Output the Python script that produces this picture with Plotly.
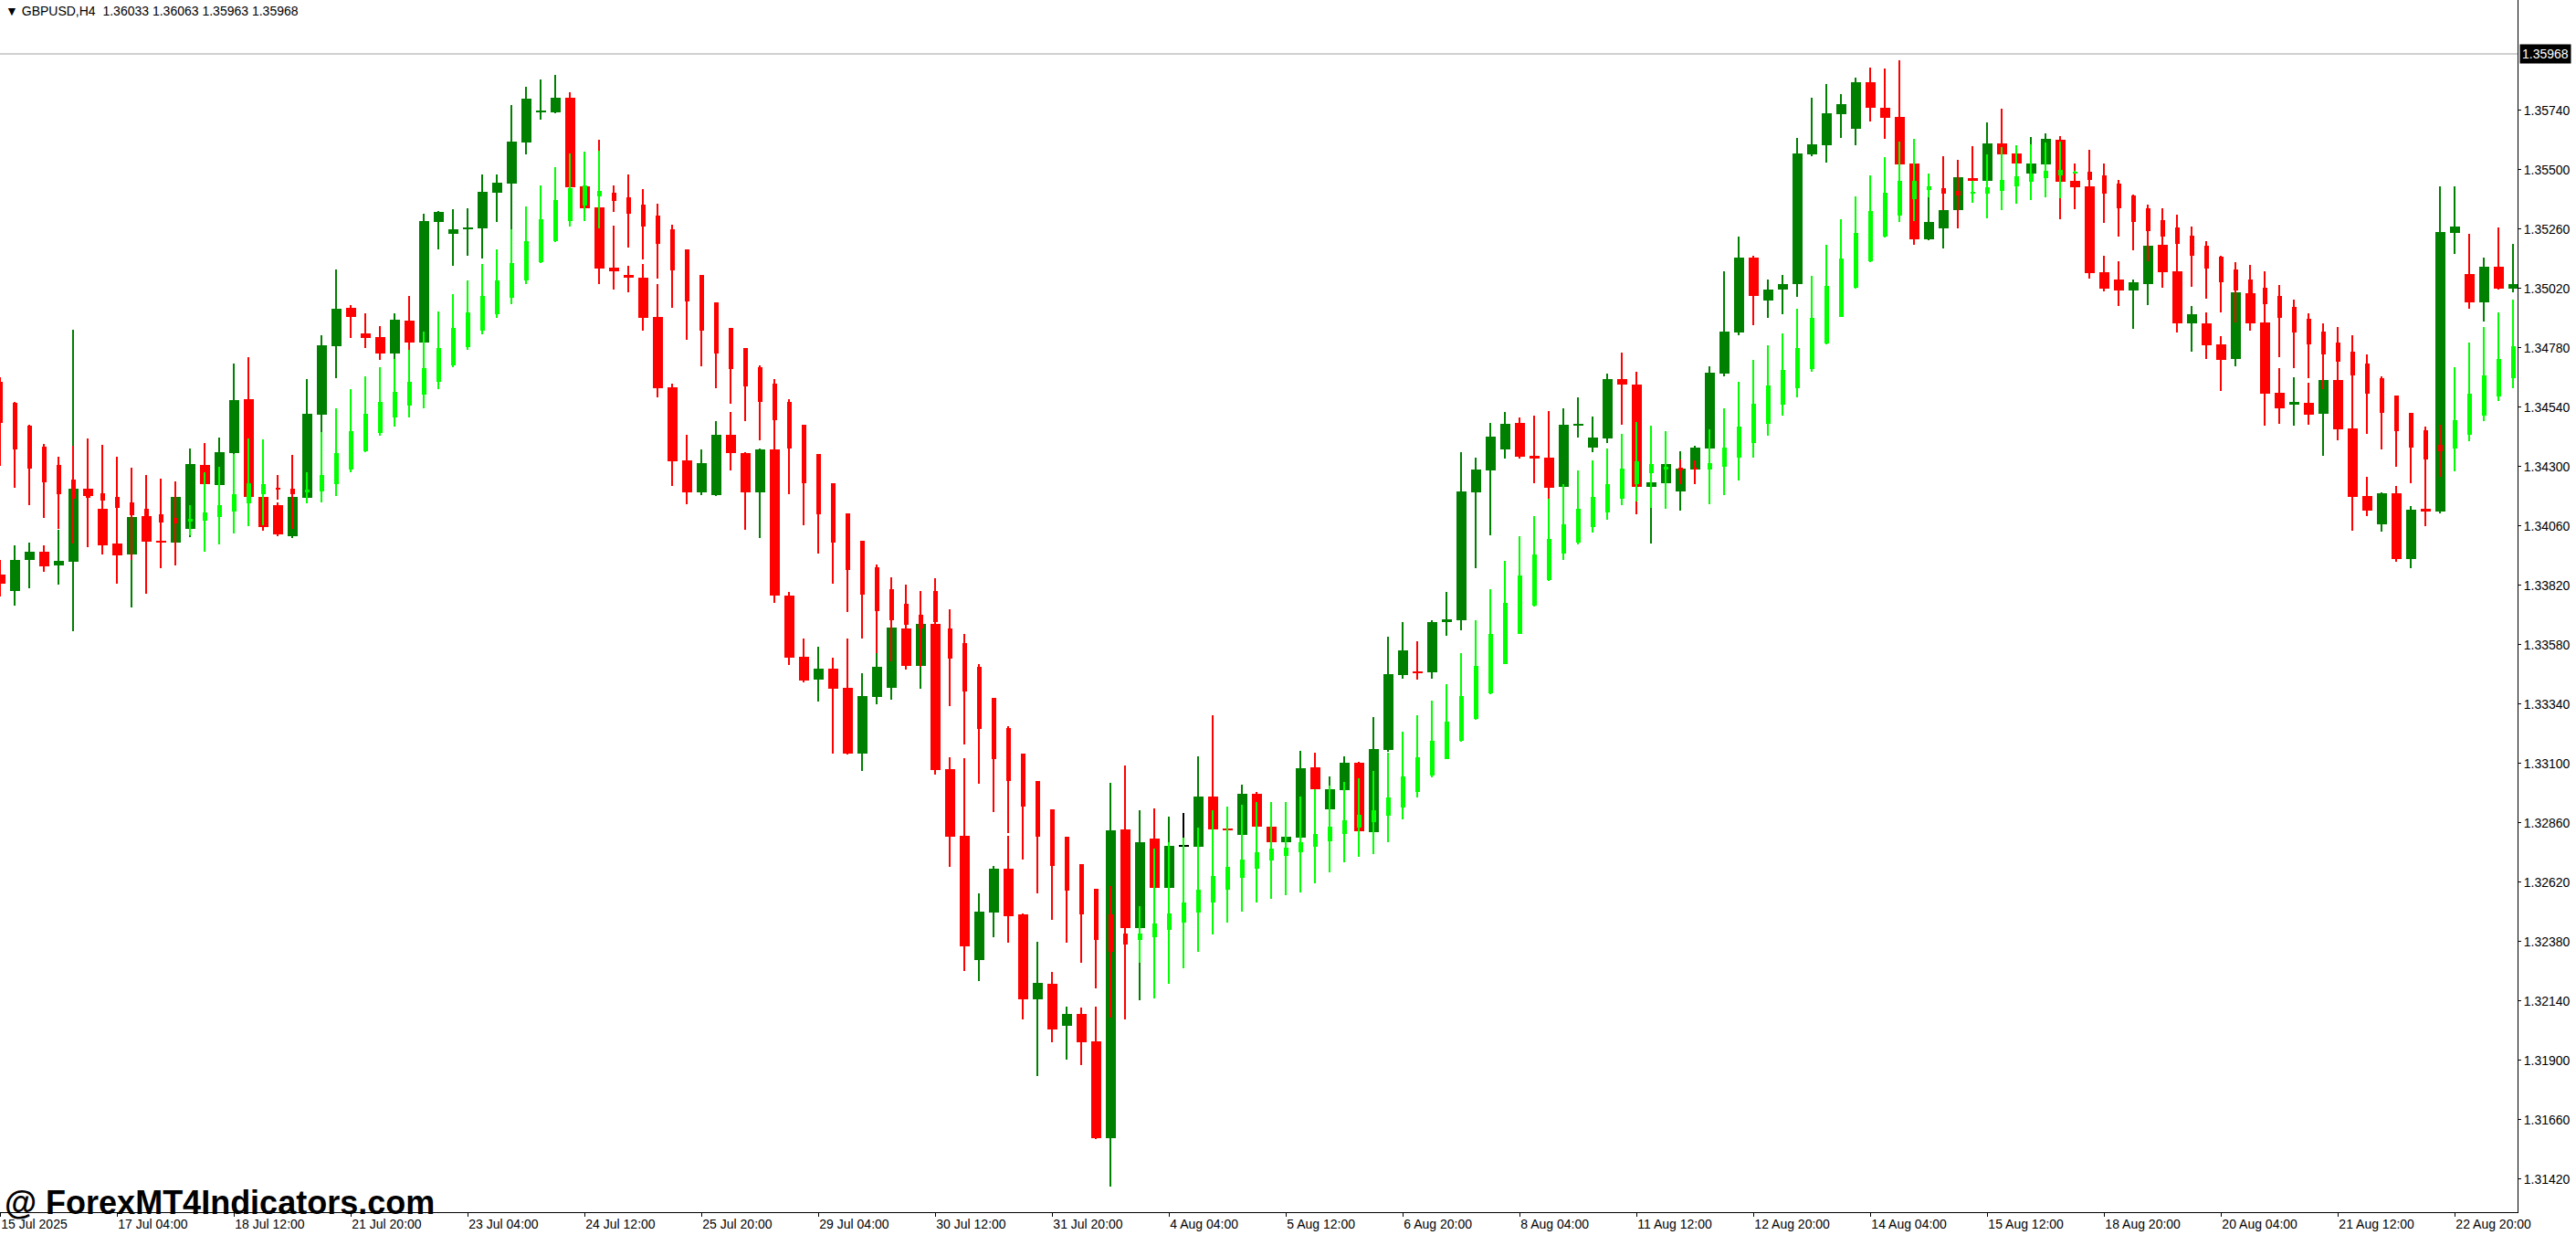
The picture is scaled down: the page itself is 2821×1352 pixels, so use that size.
import plotly.graph_objects as go

# ---------------------------------------------------------------------------
# GBPUSD H4 candles, 15 Jul 2025 20:00 .. 22 Aug 2025
# ---------------------------------------------------------------------------

main_open = [
    1.33862, 1.33798, 1.33924, 1.33956, 1.33902, 1.33915, 1.34211, 1.34130, 1.33989, 1.33946,
    1.34100, 1.34000, 1.33991, 1.34048, 1.34307, 1.34226, 1.34355, 1.34573, 1.34178, 1.34144,
    1.34020, 1.34175, 1.34511, 1.34788, 1.34941, 1.34838, 1.34823, 1.34758, 1.34890, 1.34802,
    1.35290, 1.35242, 1.35260, 1.35264, 1.35408, 1.35445, 1.35611, 1.35733, 1.35733, 1.35791,
    1.35433, 1.35348, 1.35105, 1.35074, 1.35064, 1.34904, 1.34621, 1.34325, 1.34196, 1.34184,
    1.34428, 1.34355, 1.34196, 1.34369, 1.33779, 1.33531, 1.33439, 1.33483, 1.33406, 1.33141,
    1.33368, 1.33406, 1.33645, 1.33495, 1.33665, 1.33076, 1.32807, 1.32307, 1.32496, 1.32675,
    1.32489, 1.32148, 1.32208, 1.32038, 1.32088, 1.31976, 1.31586, 1.32834, 1.32436, 1.32797,
    1.32598, 1.32763, 1.32762, 1.32966, 1.32837, 1.32812, 1.32978, 1.32844, 1.32783, 1.32801,
    1.33085, 1.32913, 1.32991, 1.33103, 1.32821, 1.33156, 1.33457, 1.33472, 1.33467, 1.33670,
    1.33678, 1.34197, 1.34285, 1.34371, 1.34476, 1.34344, 1.34336, 1.34219, 1.34465, 1.34376,
    1.34413, 1.34653, 1.34631, 1.34219, 1.34233, 1.34199, 1.34288, 1.34373, 1.34676, 1.34842,
    1.35145, 1.34971, 1.35016, 1.35038, 1.35562, 1.35599, 1.35724, 1.35665, 1.35854, 1.35750,
    1.35713, 1.35525, 1.35220, 1.35263, 1.35338, 1.35466, 1.35456, 1.35606, 1.35566, 1.35486,
    1.35523, 1.35621, 1.35455, 1.35433, 1.35086, 1.35056, 1.35013, 1.35039, 1.35196, 1.35089,
    1.34880, 1.34879, 1.34794, 1.34736, 1.35001, 1.34882, 1.34598, 1.34551, 1.34558, 1.34514,
    1.34650, 1.34454, 1.34181, 1.34068, 1.34192, 1.33927, 1.34129, 1.34119, 1.35246, 1.35078,
    1.34965, 1.35108, 1.35020,
]
main_high = [
    1.33922, 1.33981, 1.33993, 1.33983, 1.34045, 1.34853, 1.34414, 1.34168, 1.34032, 1.34131,
    1.34118, 1.34045, 1.34205, 1.34373, 1.34395, 1.34418, 1.34717, 1.34743, 1.34186, 1.34155,
    1.34186, 1.34654, 1.34831, 1.35096, 1.34952, 1.34919, 1.34868, 1.34919, 1.34990, 1.35322,
    1.35333, 1.35340, 1.35344, 1.35481, 1.35481, 1.35761, 1.35835, 1.35865, 1.35883, 1.35813,
    1.35438, 1.35621, 1.35274, 1.35111, 1.35119, 1.35038, 1.34635, 1.34428, 1.34369, 1.34485,
    1.34522, 1.34358, 1.34374, 1.34378, 1.33794, 1.33605, 1.33572, 1.33528, 1.33605, 1.33465,
    1.33547, 1.33658, 1.33661, 1.33674, 1.33676, 1.33126, 1.33121, 1.32574, 1.32685, 1.32807,
    1.32494, 1.32380, 1.32257, 1.32116, 1.32113, 1.32116, 1.33021, 1.33091, 1.32910, 1.32919,
    1.32885, 1.32899, 1.33128, 1.33295, 1.32904, 1.33014, 1.32984, 1.32859, 1.32842, 1.33151,
    1.33144, 1.33047, 1.33129, 1.33106, 1.33288, 1.33612, 1.33672, 1.33594, 1.33678, 1.33794,
    1.34359, 1.34336, 1.34476, 1.34521, 1.34499, 1.34506, 1.34524, 1.34535, 1.34580, 1.34502,
    1.34676, 1.34761, 1.34683, 1.34260, 1.34321, 1.34362, 1.34384, 1.34705, 1.35089, 1.35230,
    1.35152, 1.35056, 1.35075, 1.35628, 1.35791, 1.35846, 1.35806, 1.35872, 1.35913, 1.35909,
    1.35942, 1.35534, 1.35390, 1.35403, 1.35472, 1.35595, 1.35691, 1.35747, 1.35577, 1.35632,
    1.35647, 1.35636, 1.35525, 1.35441, 1.35152, 1.35130, 1.35056, 1.35201, 1.35207, 1.35097,
    1.34949, 1.34923, 1.34827, 1.35017, 1.35011, 1.34893, 1.34698, 1.34661, 1.34639, 1.34660,
    1.34660, 1.34506, 1.34258, 1.34196, 1.34221, 1.34140, 1.34204, 1.35433, 1.35433, 1.35241,
    1.35145, 1.35266, 1.35200,
]
main_low = [
    1.33776, 1.33739, 1.33808, 1.33875, 1.33821, 1.33636, 1.33976, 1.33944, 1.33828, 1.33729,
    1.33786, 1.33891, 1.33977, 1.34015, 1.34214, 1.34211, 1.34340, 1.34168, 1.34042, 1.34020,
    1.34010, 1.34155, 1.34438, 1.34658, 1.34821, 1.34780, 1.34732, 1.34736, 1.34773, 1.34789,
    1.35179, 1.35112, 1.35153, 1.35142, 1.35290, 1.35257, 1.35563, 1.35703, 1.35729, 1.35423,
    1.35337, 1.35039, 1.35017, 1.35005, 1.34848, 1.34580, 1.34222, 1.34148, 1.34184, 1.34181,
    1.34284, 1.34045, 1.34012, 1.33749, 1.33498, 1.33429, 1.33351, 1.33140, 1.33136, 1.33071,
    1.33340, 1.33357, 1.33479, 1.33403, 1.33054, 1.32683, 1.32262, 1.32222, 1.32399, 1.32377,
    1.32066, 1.31837, 1.31974, 1.31904, 1.31879, 1.31583, 1.31390, 1.32066, 1.32141, 1.32570,
    1.32570, 1.32737, 1.32737, 1.32812, 1.32803, 1.32795, 1.32834, 1.32776, 1.32776, 1.32793,
    1.32983, 1.32900, 1.32974, 1.32809, 1.32809, 1.33147, 1.33441, 1.33438, 1.33444, 1.33617,
    1.33637, 1.33891, 1.34024, 1.34334, 1.34331, 1.34234, 1.34169, 1.34210, 1.34417, 1.34358,
    1.34395, 1.34469, 1.34107, 1.33989, 1.34223, 1.34122, 1.34284, 1.34364, 1.34666, 1.34832,
    1.34871, 1.34901, 1.34916, 1.34986, 1.35555, 1.35529, 1.35628, 1.35599, 1.35696, 1.35626,
    1.35515, 1.35198, 1.35214, 1.35183, 1.35331, 1.35447, 1.35447, 1.35558, 1.35519, 1.35478,
    1.35515, 1.35301, 1.35342, 1.35061, 1.35009, 1.34950, 1.34858, 1.34954, 1.35024, 1.34843,
    1.34766, 1.34736, 1.34607, 1.34706, 1.34850, 1.34466, 1.34474, 1.34466, 1.34470, 1.34345,
    1.34407, 1.34042, 1.34101, 1.34038, 1.33916, 1.33890, 1.34060, 1.34112, 1.35161, 1.34939,
    1.34887, 1.35014, 1.35004,
]
main_close = [
    1.33828, 1.33922, 1.33956, 1.33897, 1.33919, 1.34211, 1.34182, 1.33983, 1.33942, 1.34096,
    1.33998, 1.33994, 1.34178, 1.34311, 1.34229, 1.34359, 1.34569, 1.34178, 1.34057, 1.34027,
    1.34178, 1.34514, 1.34790, 1.34938, 1.34906, 1.34821, 1.34758, 1.34893, 1.34802, 1.35293,
    1.35329, 1.35259, 1.35266, 1.35410, 1.35447, 1.35614, 1.35787, 1.35737, 1.35791, 1.35430,
    1.35345, 1.35102, 1.35090, 1.35067, 1.34901, 1.34616, 1.34322, 1.34196, 1.34314, 1.34428,
    1.34353, 1.34196, 1.34369, 1.33777, 1.33528, 1.33436, 1.33483, 1.33403, 1.33140, 1.33373,
    1.33490, 1.33650, 1.33495, 1.33664, 1.33074, 1.32802, 1.32359, 1.32501, 1.32675, 1.32484,
    1.32148, 1.32213, 1.32023, 1.32088, 1.31974, 1.31586, 1.32830, 1.32436, 1.32782, 1.32598,
    1.32767, 1.32763, 1.32966, 1.32835, 1.32832, 1.32977, 1.32846, 1.32783, 1.32805, 1.33082,
    1.32996, 1.32996, 1.33103, 1.32824, 1.33159, 1.33461, 1.33558, 1.33467, 1.33672, 1.33683,
    1.34199, 1.34288, 1.34422, 1.34473, 1.34341, 1.34334, 1.34216, 1.34469, 1.34473, 1.34417,
    1.34653, 1.34633, 1.34219, 1.34236, 1.34310, 1.34292, 1.34377, 1.34679, 1.34846, 1.35145,
    1.34991, 1.35016, 1.35038, 1.35566, 1.35603, 1.35728, 1.35765, 1.35854, 1.35752, 1.35711,
    1.35523, 1.35220, 1.35289, 1.35337, 1.35470, 1.35456, 1.35606, 1.35563, 1.35526, 1.35525,
    1.35625, 1.35452, 1.35430, 1.35083, 1.35020, 1.35013, 1.35045, 1.35193, 1.35087, 1.34880,
    1.34916, 1.34791, 1.34732, 1.35004, 1.34880, 1.34596, 1.34537, 1.34561, 1.34511, 1.34650,
    1.34452, 1.34178, 1.34123, 1.34192, 1.33927, 1.34125, 1.34119, 1.35248, 1.35270, 1.34965,
    1.35108, 1.35020, 1.35036,
]

# indicator candles (thin red / lime bars)
ind_open = [
    1.34642, 1.34558, 1.34466, 1.34379, 1.34306, 1.34248, 1.34205, 1.34192, 1.34178, 1.34155,
    1.34130, 1.34107, 1.34091, 1.34079, 1.34083, 1.34096, 1.34118, 1.34152, 1.34189, 1.34212,
    1.34211, 1.34197, 1.34200, 1.34230, 1.34289, 1.34362, 1.34437, 1.34500, 1.34548, 1.34592,
    1.34644, 1.34710, 1.34784, 1.34850, 1.34917, 1.34983, 1.35054, 1.35126, 1.35212, 1.35294,
    1.35355, 1.35392, 1.35407, 1.35388, 1.35360, 1.35316, 1.35260, 1.35179, 1.35075, 1.34964,
    1.34861, 1.34779, 1.34702, 1.34635, 1.34561, 1.34469, 1.34352, 1.34233, 1.34110, 1.34001,
    1.33893, 1.33805, 1.33746, 1.33702, 1.33797, 1.33646, 1.33586, 1.33492, 1.33365, 1.33243,
    1.33138, 1.33029, 1.32914, 1.32803, 1.32693, 1.32593, 1.32489, 1.32411, 1.32387, 1.32399,
    1.32426, 1.32457, 1.32496, 1.32537, 1.32591, 1.32636, 1.32673, 1.32706, 1.32727, 1.32740,
    1.32762, 1.32785, 1.32813, 1.32842, 1.32864, 1.32887, 1.32923, 1.32983, 1.33052, 1.33118,
    1.33192, 1.33279, 1.33383, 1.33502, 1.33624, 1.33738, 1.33843, 1.33948, 1.33993, 1.34056,
    1.34116, 1.34170, 1.34229, 1.34273, 1.34288, 1.34295, 1.34293, 1.34288, 1.34299, 1.34336,
    1.34395, 1.34473, 1.34550, 1.34617, 1.34694, 1.34798, 1.34906, 1.35023, 1.35130, 1.35229,
    1.35316, 1.35382, 1.35419, 1.35425, 1.35414, 1.35404, 1.35404, 1.35414, 1.35434, 1.35451,
    1.35466, 1.35478, 1.35488, 1.35492, 1.35477, 1.35444, 1.35396, 1.35344, 1.35296, 1.35266,
    1.35233, 1.35193, 1.35148, 1.35097, 1.35056, 1.35023, 1.34990, 1.34945, 1.34897, 1.34846,
    1.34801, 1.34764, 1.34716, 1.34657, 1.34587, 1.34517, 1.34447, 1.34388, 1.34374, 1.34429,
    1.34507, 1.34584, 1.34658,
]
ind_high = [
    1.34660, 1.34562, 1.34469, 1.34392, 1.34340, 1.34384, 1.34223, 1.34388, 1.34340, 1.34294,
    1.34266, 1.34251, 1.34240, 1.34144, 1.34277, 1.34299, 1.34351, 1.34414, 1.34410, 1.34266,
    1.34347, 1.34277, 1.34438, 1.34535, 1.34613, 1.34665, 1.34701, 1.34736, 1.34773, 1.34845,
    1.34927, 1.34997, 1.35052, 1.35119, 1.35178, 1.35259, 1.35351, 1.35436, 1.35510, 1.35566,
    1.35573, 1.35577, 1.35436, 1.35482, 1.35421, 1.35363, 1.35276, 1.35179, 1.35075, 1.34964,
    1.34861, 1.34779, 1.34709, 1.34654, 1.34572, 1.34469, 1.34352, 1.34233, 1.34110, 1.34001,
    1.33904, 1.33852, 1.33822, 1.33797, 1.33849, 1.33723, 1.33623, 1.33501, 1.33365, 1.33250,
    1.33140, 1.33029, 1.32914, 1.32803, 1.32693, 1.32593, 1.32603, 1.32502, 1.32522, 1.32757,
    1.32782, 1.32800, 1.32840, 1.32909, 1.32926, 1.32932, 1.32945, 1.32945, 1.32945, 1.32966,
    1.32996, 1.33011, 1.33026, 1.33040, 1.33070, 1.33144, 1.33228, 1.33294, 1.33354, 1.33421,
    1.33546, 1.33678, 1.33805, 1.33919, 1.34019, 1.34100, 1.34169, 1.34229, 1.34284, 1.34325,
    1.34373, 1.34432, 1.34480, 1.34465, 1.34443, 1.34329, 1.34325, 1.34450, 1.34535, 1.34643,
    1.34731, 1.34790, 1.34838, 1.34938, 1.35071, 1.35196, 1.35300, 1.35392, 1.35477, 1.35551,
    1.35614, 1.35625, 1.35484, 1.35555, 1.35540, 1.35456, 1.35562, 1.35592, 1.35599, 1.35603,
    1.35610, 1.35614, 1.35497, 1.35581, 1.35525, 1.35459, 1.35399, 1.35359, 1.35344, 1.35318,
    1.35270, 1.35211, 1.35152, 1.35126, 1.35115, 1.35089, 1.35034, 1.34975, 1.34919, 1.34879,
    1.34864, 1.34831, 1.34753, 1.34665, 1.34587, 1.34517, 1.34462, 1.34469, 1.34702, 1.34801,
    1.34864, 1.34923, 1.34975,
]
ind_low = [
    1.34303, 1.34213, 1.34143, 1.34094, 1.34049, 1.33989, 1.34155, 1.34131, 1.33989, 1.33924,
    1.34032, 1.34000, 1.33902, 1.34022, 1.33956, 1.33985, 1.34030, 1.34059, 1.34063, 1.34168,
    1.34048, 1.34152, 1.34155, 1.34182, 1.34278, 1.34358, 1.34426, 1.34463, 1.34500, 1.34536,
    1.34614, 1.34703, 1.34773, 1.34836, 1.34902, 1.34957, 1.35039, 1.35124, 1.35209, 1.35271,
    1.35294, 1.35264, 1.35329, 1.35185, 1.35138, 1.35059, 1.34942, 1.34812, 1.34706, 1.34616,
    1.34554, 1.34483, 1.34406, 1.34369, 1.34189, 1.34063, 1.33949, 1.33827, 1.33713, 1.33605,
    1.33547, 1.33511, 1.33642, 1.33489, 1.33623, 1.33330, 1.33175, 1.33019, 1.32905, 1.32817,
    1.32710, 1.32576, 1.32466, 1.32377, 1.32295, 1.32192, 1.32071, 1.32335, 1.32295, 1.32150,
    1.32210, 1.32273, 1.32340, 1.32407, 1.32457, 1.32502, 1.32539, 1.32554, 1.32566, 1.32580,
    1.32617, 1.32658, 1.32699, 1.32724, 1.32735, 1.32783, 1.32872, 1.32964, 1.33045, 1.33116,
    1.33189, 1.33276, 1.33381, 1.33500, 1.33622, 1.33736, 1.33836, 1.33921, 1.33986, 1.34033,
    1.34085, 1.34144, 1.34159, 1.34133, 1.34129, 1.34229, 1.34229, 1.34148, 1.34185, 1.34244,
    1.34336, 1.34425, 1.34506, 1.34580, 1.34683, 1.34794, 1.34905, 1.35019, 1.35126, 1.35226,
    1.35290, 1.35292, 1.35390, 1.35337, 1.35264, 1.35366, 1.35305, 1.35338, 1.35363, 1.35378,
    1.35390, 1.35386, 1.35484, 1.35435, 1.35286, 1.35231, 1.35176, 1.35131, 1.35131, 1.35091,
    1.35028, 1.34980, 1.34924, 1.34884, 1.34850, 1.34820, 1.34743, 1.34699, 1.34658, 1.34614,
    1.34650, 1.34506, 1.34433, 1.34370, 1.34300, 1.34234, 1.34197, 1.34260, 1.34282, 1.34404,
    1.34485, 1.34566, 1.34616,
]
ind_close = [
    1.34475, 1.34371, 1.34293, 1.34238, 1.34190, 1.34171, 1.34175, 1.34164, 1.34134, 1.34104,
    1.34100, 1.34075, 1.34072, 1.34089, 1.34115, 1.34144, 1.34189, 1.34233, 1.34229, 1.34208,
    1.34190, 1.34207, 1.34266, 1.34354, 1.34443, 1.34513, 1.34561, 1.34602, 1.34642, 1.34698,
    1.34779, 1.34860, 1.34923, 1.34990, 1.35052, 1.35122, 1.35211, 1.35300, 1.35377, 1.35425,
    1.35436, 1.35414, 1.35374, 1.35323, 1.35271, 1.35200, 1.35092, 1.34967, 1.34850, 1.34757,
    1.34695, 1.34624, 1.34561, 1.34488, 1.34374, 1.34233, 1.34107, 1.33993, 1.33882, 1.33782,
    1.33716, 1.33678, 1.33661, 1.33645, 1.33673, 1.33524, 1.33392, 1.33240, 1.33119, 1.33028,
    1.32924, 1.32802, 1.32686, 1.32584, 1.32491, 1.32387, 1.32339, 1.32369, 1.32414, 1.32452,
    1.32494, 1.32537, 1.32589, 1.32645, 1.32681, 1.32712, 1.32740, 1.32755, 1.32760, 1.32781,
    1.32814, 1.32844, 1.32870, 1.32892, 1.32912, 1.32963, 1.33047, 1.33124, 1.33192, 1.33269,
    1.33373, 1.33494, 1.33624, 1.33749, 1.33859, 1.33945, 1.34008, 1.34066, 1.34129, 1.34177,
    1.34229, 1.34292, 1.34321, 1.34310, 1.34300, 1.34288, 1.34289, 1.34314, 1.34377, 1.34462,
    1.34554, 1.34628, 1.34690, 1.34779, 1.34901, 1.35030, 1.35141, 1.35245, 1.35333, 1.35407,
    1.35455, 1.35455, 1.35433, 1.35403, 1.35397, 1.35411, 1.35429, 1.35459, 1.35473, 1.35486,
    1.35496, 1.35499, 1.35492, 1.35460, 1.35404, 1.35345, 1.35290, 1.35253, 1.35231, 1.35201,
    1.35153, 1.35102, 1.35046, 1.35013, 1.34967, 1.34958, 1.34902, 1.34843, 1.34795, 1.34754,
    1.34725, 1.34670, 1.34596, 1.34518, 1.34444, 1.34378, 1.34330, 1.34363, 1.34487, 1.34594,
    1.34668, 1.34735, 1.34785,
]

# bottom axis labels, one every 8 bars
time_labels = [
    "15 Jul 2025", "17 Jul 04:00", "18 Jul 12:00", "21 Jul 20:00", "23 Jul 04:00",
    "24 Jul 12:00", "25 Jul 20:00", "29 Jul 04:00", "30 Jul 12:00", "31 Jul 20:00",
    "4 Aug 04:00", "5 Aug 12:00", "6 Aug 20:00", "8 Aug 04:00", "11 Aug 12:00",
    "12 Aug 20:00", "14 Aug 04:00", "15 Aug 12:00", "18 Aug 20:00", "20 Aug 04:00",
    "21 Aug 12:00", "22 Aug 20:00",
]
label_step = 8

price_ticks = [
    1.31420, 1.31660, 1.31900, 1.32140, 1.32380, 1.32620, 1.32860, 1.33100, 1.33340, 1.33580,
    1.33820, 1.34060, 1.34300, 1.34540, 1.34780, 1.35020, 1.35260, 1.35500, 1.35740,
]
bid_price = 1.35968
header = "\u25bc GBPUSD,H4\u00a0\u00a01.36033 1.36063 1.35963 1.35968"
watermark = "@ ForexMT4Indicators.com"

# ---------------------------------------------------------------------------
# Styling (MT4 look)
# ---------------------------------------------------------------------------
GREEN = "#008000"
RED = "#FF0000"
LIME = "#00FF00"
FONT = "Liberation Sans, Arial, sans-serif"
MIN_BODY = 0.00004  # a doji still shows as a thin line

n = len(main_open)
idx = list(range(n))


def bar_colors(o, c, up, down, flat):
    return [up if cc > oo else (down if cc < oo else flat) for oo, cc in zip(o, c)]


main_col = bar_colors(main_open, main_close, GREEN, RED, "#000000")
ind_col = bar_colors(ind_open, ind_close, LIME, RED, LIME)


def wick(o_lo, o_hi, colors, width):
    return go.Bar(
        x=idx, base=o_lo, y=[h - l for h, l in zip(o_hi, o_lo)], width=width,
        marker=dict(color=colors, line_width=0), hoverinfo="skip",
    )


def body(o, c, colors, width):
    return go.Bar(
        x=idx, base=[min(a, b) for a, b in zip(o, c)],
        y=[max(abs(b - a), MIN_BODY) for a, b in zip(o, c)], width=width,
        marker=dict(color=colors, line_width=0), hoverinfo="skip",
    )


fig = go.Figure()
fig.add_trace(wick(main_low, main_high, main_col, 0.07))
fig.add_trace(body(main_open, main_close, main_col, 0.69))
fig.add_trace(wick(ind_low, ind_high, ind_col, 0.11))
fig.add_trace(body(ind_open, ind_close, ind_col, 0.30))

# bid line + price box on the right scale
fig.add_shape(type="line", xref="paper", x0=0, x1=1, yref="y", y0=bid_price, y1=bid_price,
              line=dict(color="#C0C0C0", width=1.5), layer="below")
fig.add_annotation(xref="paper", x=1, yref="y", y=bid_price, xanchor="left", yanchor="middle",
                   xshift=2, text=f"{bid_price:.5f}", showarrow=False, bgcolor="black",
                   borderpad=2, font=dict(family=FONT, size=14, color="white"))

fig.add_annotation(xref="paper", x=0, yref="paper", y=1, xanchor="left", yanchor="top",
                   xshift=4, yshift=-2, text=header, showarrow=False,
                   font=dict(family=FONT, size=14, color="black"))
fig.add_annotation(xref="paper", x=0, yref="paper", y=0, xanchor="left", yanchor="middle",
                   xshift=3, yshift=11, text=f"<b>{watermark}</b>", showarrow=False,
                   font=dict(family=FONT, size=36, color="black"))

fig.update_layout(
    width=2821, height=1352,
    margin=dict(l=0, r=64, t=0, b=25, pad=0),
    paper_bgcolor="white", plot_bgcolor="white",
    barmode="overlay", bargap=0, showlegend=False,
    font=dict(family=FONT, size=14, color="black"),
    xaxis=dict(
        range=[-0.02, 172.29],
        tickvals=list(range(0, n, label_step))[:len(time_labels)], ticktext=time_labels,
        ticks="outside", ticklen=4, tickcolor="black", ticklabelposition="outside right",
        showline=True, linecolor="black", linewidth=1,
        showgrid=False, zeroline=False, automargin=False,
    ),
    yaxis=dict(
        side="right", range=[1.31286, 1.36186],
        tickvals=price_ticks, tickformat=".5f",
        ticks="outside", ticklen=3, tickcolor="black",
        showline=True, linecolor="black", linewidth=1,
        showgrid=False, zeroline=False, automargin=False,
    ),
)

fig.write_html(
    "out.html",
    config={"displayModeBar": False},
    post_script="document.body.style.margin='0';document.body.style.overflow='hidden';",
)
